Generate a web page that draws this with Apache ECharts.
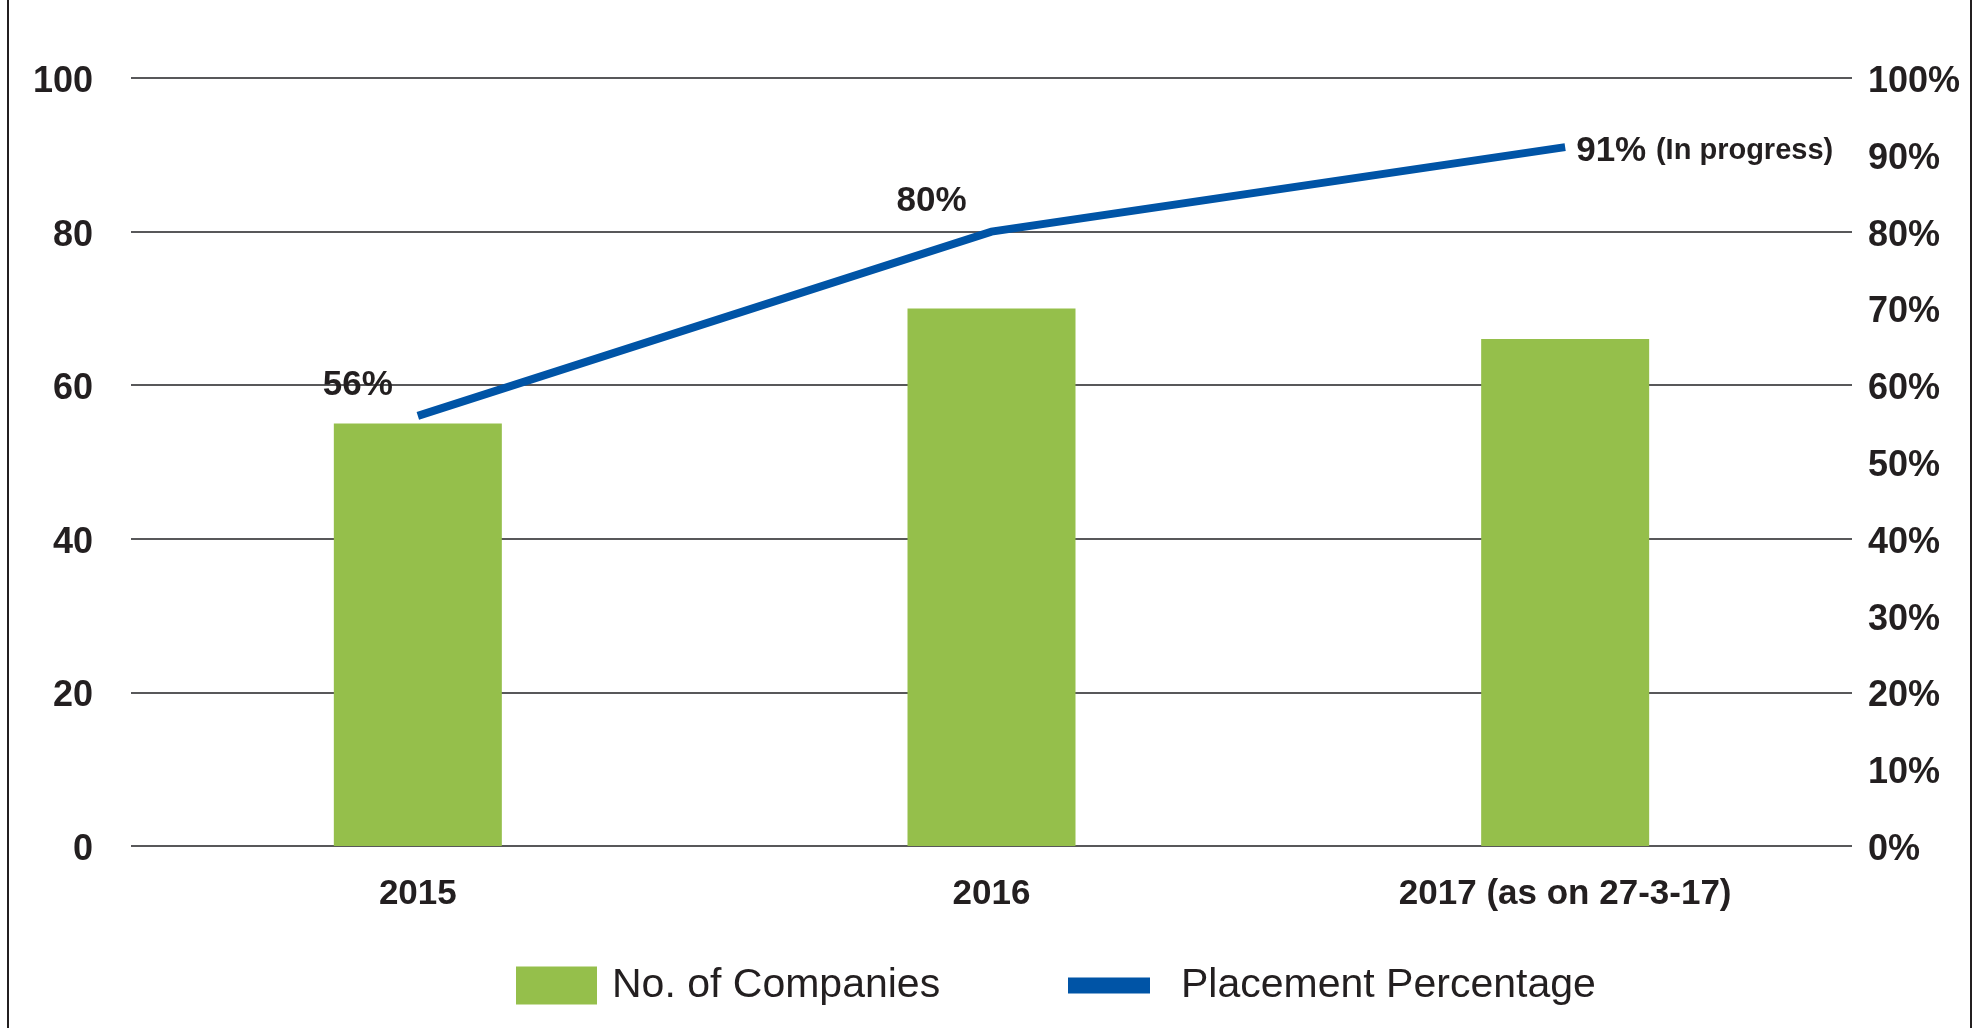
<!DOCTYPE html>
<html>
<head>
<meta charset="utf-8">
<title>Placements</title>
<script src="https://cdn.jsdelivr.net/npm/echarts@6/dist/echarts.min.js"></script>
<style>
  html, body { margin: 0; padding: 0; background: #ffffff; }
  #chart { width: 1974px; height: 1028px; }
</style>
</head>
<body>
<div id="chart"></div>
<script>
// Placement record by year
const years = ['2015', '2016', '2017 (as on 27-3-17)'];
const companies = [55, 70, 66];          // number of companies visiting
const placement = [56, 80, 91];          // placement percentage
const placementNotes = ['', '', '(In progress)'];
const leftTicks = { min: 0, max: 100, interval: 20 };
const rightTicks = { min: 0, max: 100, interval: 10 };

const INK = '#231f20';
const GREEN = '#95bf4b';
const BLUE = '#0054a6';
const FONT = '"Liberation Sans", Arial, sans-serif';

const chart = echarts.init(document.getElementById('chart'), null, { renderer: 'canvas' });

// the point carrying a note gets its label on the right of the line end
const lineData = placement.map((v, i) => {
  if (placementNotes[i]) {
    return { value: v, label: { position: 'right', distance: 11, offset: [0, 4] } };
  }
  return v;
});

// tick text sits a little low against its grid line
const tickRich = {
  t: { fontFamily: FONT, fontSize: 36, fontWeight: 'bold', color: INK, padding: [8, 0, 0, 0] }
};

chart.setOption({
  backgroundColor: '#ffffff',
  animation: false,
  textStyle: { fontFamily: FONT },
  grid: { left: 131, right: 122, top: 78, bottom: 182, containLabel: false },
  legend: [
    {
      data: [{ name: 'No. of Companies', icon: 'rect' }],
      left: 511, top: 960,
      itemWidth: 81, itemHeight: 38,
      textStyle: { fontFamily: FONT, fontSize: 41, color: INK, padding: [0, 0, 0, 10] },
      selectedMode: false
    },
    {
      data: [{ name: 'Placement Percentage', icon: 'rect', itemStyle: { color: BLUE } }],
      left: 1063, top: 960,
      itemWidth: 82, itemHeight: 16,
      textStyle: { fontFamily: FONT, fontSize: 41, color: INK, padding: [0, 0, 0, 26] },
      selectedMode: false
    }
  ],
  xAxis: {
    type: 'category',
    data: years,
    boundaryGap: true,
    axisLine: { show: false },
    axisTick: { show: false },
    axisLabel: { fontFamily: FONT, fontSize: 35, fontWeight: 'bold', color: INK, margin: 31 }
  },
  yAxis: [
    {
      type: 'value',
      position: 'left',
      min: leftTicks.min, max: leftTicks.max, interval: leftTicks.interval,
      axisLine: { show: false },
      axisTick: { show: false },
      splitLine: { show: true, lineStyle: { color: '#58585a', width: 1.8 } },
      axisLabel: {
        fontFamily: FONT, fontSize: 36, fontWeight: 'bold', color: INK, margin: 38,
        formatter: (v) => '{t|' + v + '}', rich: tickRich
      }
    },
    {
      type: 'value',
      position: 'right',
      min: rightTicks.min, max: rightTicks.max, interval: rightTicks.interval,
      axisLine: { show: false },
      axisTick: { show: false },
      splitLine: { show: false },
      axisLabel: {
        fontFamily: FONT, fontSize: 36, fontWeight: 'bold', color: INK, margin: 16,
        formatter: (v) => '{t|' + v + '%}', rich: tickRich
      }
    }
  ],
  series: [
    {
      name: 'No. of Companies',
      type: 'bar',
      yAxisIndex: 0,
      data: companies,
      barWidth: 168,
      itemStyle: { color: GREEN },
      z: 2
    },
    {
      name: 'Placement Percentage',
      type: 'line',
      yAxisIndex: 1,
      data: lineData,
      symbol: 'circle',
      symbolSize: 0,
      showSymbol: true,
      color: BLUE,
      itemStyle: { color: BLUE },
      lineStyle: { color: BLUE, width: 8, cap: 'butt', join: 'miter' },
      label: {
        show: true,
        position: 'top',
        distance: 5,
        offset: [-60, -8],
        fontFamily: FONT,
        fontSize: 35,
        fontWeight: 'bold',
        color: INK,
        formatter: (p) => {
          const note = placementNotes[p.dataIndex];
          return note ? '{v|' + p.value + '%} {n|' + note + '}' : p.value + '%';
        },
        rich: {
          v: { fontFamily: FONT, fontSize: 35, fontWeight: 'bold', color: INK },
          n: { fontFamily: FONT, fontSize: 29, fontWeight: 'bold', color: INK }
        }
      },
      z: 3
    }
  ],
  graphic: [
    { type: 'line', shape: { x1: 8, y1: 0, x2: 8, y2: 1028 }, style: { stroke: INK, lineWidth: 2 }, silent: true },
    { type: 'line', shape: { x1: 1971, y1: 0, x2: 1971, y2: 1028 }, style: { stroke: INK, lineWidth: 2 }, silent: true }
  ]
});
</script>
</body>
</html>
